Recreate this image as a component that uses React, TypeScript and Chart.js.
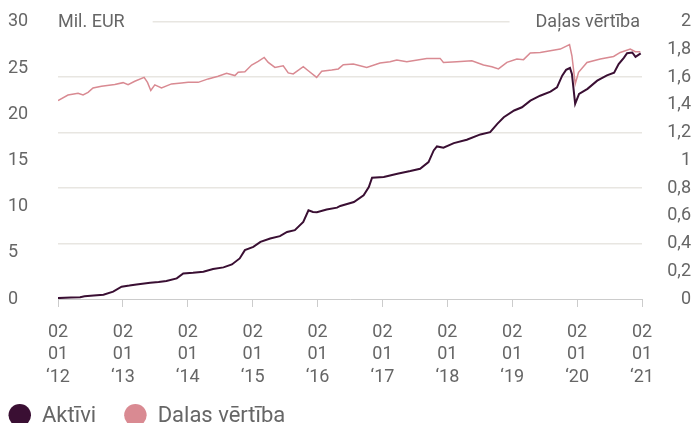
import React, { useEffect, useRef } from 'react';
import { Chart, registerables } from 'chart.js';

Chart.register(...registerables);

// Aktīvi (Mil. EUR), x = decimal year
const aktiviDates = [
  2012.0, 2012.2, 2012.34, 2012.41, 2012.55, 2012.7, 2012.85, 2012.98, 2013.1, 2013.21, 2013.42, 2013.55,
  2013.67, 2013.83, 2013.93, 2014.08, 2014.24, 2014.39, 2014.55, 2014.68, 2014.8, 2014.88, 2015.01,
  2015.12, 2015.27, 2015.42, 2015.53, 2015.65, 2015.78, 2015.86, 2015.93, 2015.99, 2016.14, 2016.3,
  2016.35, 2016.56, 2016.71, 2016.79, 2016.84, 2017.02, 2017.23, 2017.43, 2017.58, 2017.71, 2017.79,
  2017.84, 2017.94, 2018.1, 2018.3, 2018.51, 2018.66, 2018.77, 2018.87, 2019.03, 2019.15, 2019.28,
  2019.43, 2019.59, 2019.69, 2019.77, 2019.83, 2019.89, 2019.92, 2019.97, 2020.03, 2020.16, 2020.31,
  2020.46, 2020.57, 2020.64, 2020.72, 2020.77, 2020.85, 2020.9, 2020.98,
];
const aktiviValues = [
  0.1, 0.15, 0.2, 0.3, 0.38, 0.47, 0.79, 1.33, 1.45, 1.58, 1.76, 1.84,
  1.94, 2.23, 2.77, 2.84, 2.95, 3.24, 3.42, 3.74, 4.39, 5.29, 5.64,
  6.18, 6.55, 6.8, 7.26, 7.45, 8.34, 9.6, 9.42, 9.39, 9.68, 9.89,
  10.07, 10.5, 11.22, 12.12, 13.13, 13.2, 13.56, 13.85, 14.1, 14.82, 16.08,
  16.51, 16.37, 16.87, 17.23, 17.81, 18.06, 18.96, 19.67, 20.4, 20.75, 21.47,
  22.0, 22.45, 22.9, 24.17, 24.8, 25.0, 24.35, 21.12, 22.2, 22.74, 23.63,
  24.2, 24.5, 25.43, 26.1, 26.6, 26.68, 26.2, 26.58,
];

// Daļas vērtība, x = decimal year
const dalasDates = [
  2012.0, 2012.154, 2012.309, 2012.386, 2012.463, 2012.54, 2012.67, 2012.875, 2013.003, 2013.08,
  2013.183, 2013.327, 2013.379, 2013.43, 2013.492, 2013.595, 2013.749, 2013.904, 2014.006, 2014.16,
  2014.314, 2014.468, 2014.598, 2014.726, 2014.777, 2014.88, 2014.984, 2015.085, 2015.178, 2015.24,
  2015.343, 2015.471, 2015.548, 2015.625, 2015.78, 2015.857, 2015.986, 2016.064, 2016.218, 2016.32,
  2016.397, 2016.551, 2016.758, 2016.963, 2017.117, 2017.221, 2017.375, 2017.683, 2017.889, 2017.94,
  2018.146, 2018.378, 2018.557, 2018.686, 2018.788, 2018.918, 2019.072, 2019.174, 2019.278, 2019.432,
  2019.586, 2019.741, 2019.883, 2019.92, 2019.971, 2020.022, 2020.152, 2020.357, 2020.562, 2020.665,
  2020.819, 2020.897, 2020.974,
];
const dalasValues = [
  1.432, 1.472, 1.484, 1.472, 1.491, 1.523, 1.535, 1.547, 1.561, 1.547,
  1.571, 1.599, 1.563, 1.504, 1.545, 1.523, 1.552, 1.559, 1.563, 1.563,
  1.588, 1.607, 1.628, 1.612, 1.636, 1.64, 1.688, 1.714, 1.743, 1.707,
  1.671, 1.683, 1.631, 1.624, 1.676, 1.647, 1.599, 1.643, 1.652, 1.66,
  1.69, 1.696, 1.671, 1.703, 1.712, 1.725, 1.712, 1.736, 1.736, 1.707,
  1.712, 1.719, 1.688, 1.676, 1.66, 1.707, 1.732, 1.727, 1.775, 1.779,
  1.791, 1.803, 1.836, 1.755, 1.552, 1.636, 1.707, 1.732, 1.75, 1.779,
  1.803, 1.784, 1.784,
];

const seriesLabels = ['Aktīvi', 'Daļas vērtība'];
const seriesColors = ['#3a0f33', '#d98a92'];
const axisTitles = ['Mil. EUR', 'Daļas vērtība'];
const xRange = [2012, 2021];
const leftRange = [0, 30, 5];
const rightRange = [0, 2, 0.2];
const xTickLines = ['02', '01'];

const FONT = 'Roboto, "Noto Sans", sans-serif';
const TEXT = '#666666';

const overlayPlugin = {
  id: 'overlay',
  afterDraw(chart: any) {
    const { ctx, chartArea } = chart;
    ctx.save();
    // axis titles on top gridline
    ctx.font = `18px ${FONT}`;
    ctx.textBaseline = 'middle';
    const ty = chartArea.top + 1;
    const w0 = ctx.measureText(axisTitles[0]).width;
    const w1 = ctx.measureText(axisTitles[1]).width;
    ctx.fillStyle = '#ffffff';
    ctx.fillRect(chartArea.left, chartArea.top - 3, w0 + 28, 6);
    ctx.fillRect(chartArea.right - w1 - 28, chartArea.top - 3, w1 + 30, 6);
    ctx.fillStyle = TEXT;
    ctx.textAlign = 'left';
    ctx.fillText(axisTitles[0], chartArea.left, ty);
    ctx.textAlign = 'right';
    ctx.fillText(axisTitles[1], chartArea.right - 2, ty);

    // legend
    ctx.font = `22px ${FONT}`;
    ctx.textAlign = 'left';
    ctx.textBaseline = 'alphabetic';
    const r = 11.25;
    const cy = 407.3;
    let x = 0.5;
    chart.data.datasets.forEach((ds: any) => {
      ctx.beginPath();
      ctx.arc(x + r, cy, r, 0, Math.PI * 2);
      ctx.fillStyle = ds.borderColor;
      ctx.fill();
      const tx = x + 2 * r + 11;
      ctx.fillStyle = TEXT;
      ctx.fillText(ds.label, tx, 413.7);
      x = tx + ctx.measureText(ds.label).width + 28;
    });
    ctx.restore();
  },
};

export default function App() {
  const ref = useRef<HTMLCanvasElement | null>(null);

  useEffect(() => {
    if (!ref.current) return;
    const chart = new Chart(ref.current, {
      type: 'line',
      data: {
        datasets: [
          {
            label: seriesLabels[0],
            data: aktiviDates.map((d, i) => ({ x: d, y: aktiviValues[i] })),
            borderColor: seriesColors[0],
            backgroundColor: seriesColors[0],
            borderWidth: 2,
            pointRadius: 0,
            tension: 0,
            yAxisID: 'y',
          },
          {
            label: seriesLabels[1],
            data: dalasDates.map((d, i) => ({ x: d, y: dalasValues[i] })),
            borderColor: seriesColors[1],
            backgroundColor: seriesColors[1],
            borderWidth: 1.5,
            pointRadius: 0,
            tension: 0,
            yAxisID: 'y1',
          },
        ],
      },
      options: {
        responsive: false,
        animation: false,
        devicePixelRatio: 1,
        layout: { padding: { top: 13, right: 3, left: 0, bottom: 0 } },
        plugins: { legend: { display: false }, tooltip: { enabled: false } },
        scales: {
          x: {
            type: 'linear',
            min: xRange[0],
            max: xRange[1],
            afterFit: (s: any) => { s.height = 124; },
            grid: { drawOnChartArea: false, drawTicks: true, tickLength: 8, color: '#cccccc' },
            border: { display: true, color: '#cccccc' },
            ticks: {
              stepSize: 1,
              autoSkip: false,
              maxRotation: 0,
              padding: 14,
              color: TEXT,
              font: { family: FONT, size: 18, lineHeight: 1.25 },
              callback: (v: any) => [...xTickLines, '\u2018' + String(v).slice(2)],
            },
          },
          y: {
            position: 'left',
            min: leftRange[0],
            max: leftRange[1],
            afterFit: (s: any) => { s.width = 50; },
            grid: { display: false },
            border: { display: false },
            ticks: {
              stepSize: leftRange[2],
              crossAlign: 'far',
              color: TEXT,
              font: { family: FONT, size: 18 },
            },
          },
          y1: {
            position: 'right',
            min: rightRange[0],
            max: rightRange[1],
            afterFit: (s: any) => { s.width = 49; },
            grid: {
              drawTicks: false,
              drawOnChartArea: true,
              color: (c: any) => (c.index % 2 === 0 && c.index > 0 ? '#e8e6e1' : 'rgba(0,0,0,0)'),
              lineWidth: 1.5,
            },
            border: { display: false },
            ticks: {
              stepSize: rightRange[2],
              crossAlign: 'far',
              color: TEXT,
              font: { family: FONT, size: 18 },
              callback: (v: any) => String(Number(Number(v).toFixed(1))).replace('.', ','),
            },
          },
        },
      },
      plugins: [overlayPlugin],
    } as any);
    return () => chart.destroy();
  }, []);

  return (
    <div style={{ position: 'absolute', left: 8, top: 8, width: 686, height: 415, overflow: 'hidden' }}>
      <canvas ref={ref} width={686} height={415} style={{ display: 'block' }} />
    </div>
  );
}
